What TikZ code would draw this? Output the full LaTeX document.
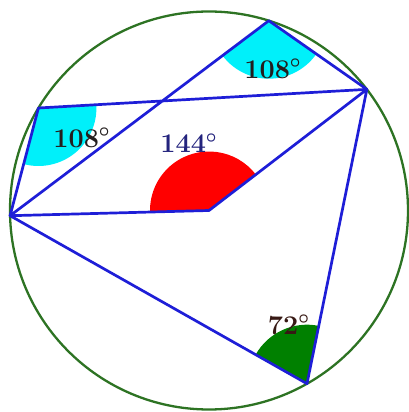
\documentclass[tikz,border=0pt]{standalone}
\usetikzlibrary{angles}
\definecolor{segblue}{RGB}{30,30,215}
\definecolor{circgreen}{RGB}{45,115,35}
\definecolor{lbldark}{RGB}{35,30,30}
\definecolor{lblnavy}{RGB}{35,35,125}
\definecolor{lblbrown}{RGB}{55,25,20}
\definecolor{fillgreen}{RGB}{0,128,0}
\definecolor{aqua}{RGB}{0,240,250}
\tikzset{
  seg/.style={draw=segblue, line width=1.35pt, line join=round, line cap=round},
  sector/.style={draw=none, angle radius=29pt},
  lbl/.style={font=\fontsize{13.5}{15}\selectfont\bfseries\boldmath, inner sep=0pt}
}
\begin{document}
\begin{tikzpicture}[x=0.5pt,y=0.5pt]
\useasboundingbox (0,0) rectangle (408,412);
\coordinate (O) at (209,201.5);
\coordinate (A) at ([shift={(O)}]181.5:199);
\coordinate (B) at ([shift={(O)}]72.5:199);
\coordinate (C) at ([shift={(O)}]37.5:199);
\coordinate (D) at ([shift={(O)}]149:199);
\coordinate (E) at ([shift={(O)}]299.5:199);
\coordinate (F) at (O);
% sectors
\pic[sector, fill=aqua] {angle = A--D--C};
\pic[sector, fill=aqua] {angle = A--B--C};
\pic[sector, fill=red, angle radius=29.5pt] {angle = C--F--A};
\pic[sector, fill=fillgreen, angle radius=29.5pt] {angle = C--E--A};
% circle
\draw[circgreen, line width=1.15pt] (O) circle[radius=199];
% segments
\draw[seg] (A) -- (D) -- (C) -- (B) -- (A);
\draw[seg] (A) -- (F) -- (C) -- (E) -- (A);
% labels
\node[lbl, text=lbldark] (l1) at (273,343) {108$^\circ$};
\node[lbl, text=lbldark] (l2) at (82,274) {108$^\circ$};
\node[lbl, text=lblnavy] (l3) at (189,269) {144$^\circ$};
\node[lbl, text=lblbrown] (l4) at (289,87) {72$^\circ$};
\end{tikzpicture}
\end{document}
